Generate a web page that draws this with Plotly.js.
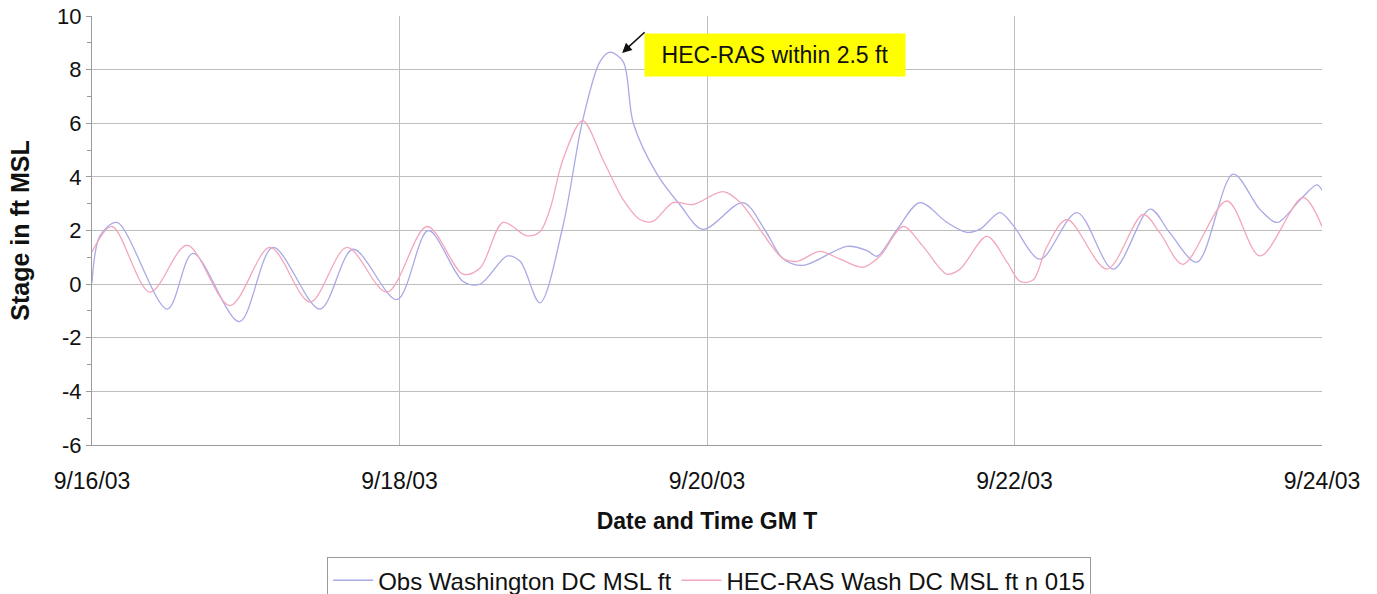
<!DOCTYPE html>
<html><head><meta charset="utf-8">
<script src="https://cdn.plot.ly/plotly-3.0.1.min.js"></script>
<style>html,body{margin:0;padding:0;background:#fff}#chart{width:1377px;height:594px}</style>
</head><body><div id="chart"></div>
<script>
const obsTimes = ["2003-09-16 00:00","2003-09-16 01:15","2003-09-16 03:54","2003-09-16 11:45","2003-09-16 15:45","2003-09-16 23:00","2003-09-17 04:15","2003-09-17 11:35","2003-09-17 16:45","2003-09-17 23:36","2003-09-18 04:30","2003-09-18 09:55","2003-09-18 12:35","2003-09-18 16:50","2003-09-18 18:50","2003-09-18 21:55","2003-09-19 01:30","2003-09-19 04:35","2003-09-19 07:18","2003-09-19 08:52","2003-09-19 10:55","2003-09-19 12:30","2003-09-19 16:12","2003-09-19 19:48","2003-09-19 23:22","2003-09-20 05:37","2003-09-20 09:05","2003-09-20 11:52","2003-09-20 15:00","2003-09-20 21:52","2003-09-21 01:00","2003-09-21 02:32","2003-09-21 05:40","2003-09-21 09:15","2003-09-21 13:28","2003-09-21 16:35","2003-09-21 18:37","2003-09-21 21:44","2003-09-21 23:46","2003-09-22 04:00","2003-09-22 09:45","2003-09-22 15:25","2003-09-22 21:10","2003-09-23 00:17","2003-09-23 04:30","2003-09-23 10:07","2003-09-23 14:20","2003-09-23 17:00","2003-09-23 20:35","2003-09-23 23:13","2003-09-24 00:00"];
const obsStage = [0.05,1.8,2.3,-0.93,1.15,-1.4,1.37,-0.93,1.3,-0.58,2.0,0.1,0.0,1.05,0.85,-0.7,2.15,6.1,8.3,8.65,8.3,6.0,4.1,2.95,2.04,3.04,2.0,0.95,0.7,1.41,1.25,1.04,2.04,3.04,2.3,1.93,2.05,2.67,2.2,0.93,2.67,0.56,2.8,1.9,0.82,4.1,2.78,2.3,3.15,3.7,3.5];

const rasTimes = ["2003-09-16 00:00","2003-09-16 03:07","2003-09-16 09:03","2003-09-16 14:50","2003-09-16 21:32","2003-09-17 03:47","2003-09-17 10:02","2003-09-17 15:48","2003-09-17 22:03","2003-09-18 04:18","2003-09-18 09:55","2003-09-18 12:35","2003-09-18 16:10","2003-09-18 19:54","2003-09-18 21:55","2003-09-18 23:30","2003-09-19 01:30","2003-09-19 04:35","2003-09-19 07:46","2003-09-19 10:55","2003-09-19 13:32","2003-09-19 15:34","2003-09-19 18:42","2003-09-19 21:49","2003-09-20 02:30","2003-09-20 05:10","2003-09-20 11:52","2003-09-20 14:03","2003-09-20 17:38","2003-09-20 20:46","2003-09-21 00:21","2003-09-21 03:00","2003-09-21 06:36","2003-09-21 09:43","2003-09-21 13:28","2003-09-21 15:30","2003-09-21 19:42","2003-09-21 22:50","2003-09-22 00:52","2003-09-22 02:54","2003-09-22 05:05","2003-09-22 08:12","2003-09-22 14:26","2003-09-22 20:04","2003-09-22 22:43","2003-09-23 02:18","2003-09-23 09:10","2003-09-23 14:20","2003-09-23 21:02","2003-09-24 00:00"];
const rasStage = [1.2,2.15,-0.3,1.45,-0.8,1.37,-0.67,1.37,-0.3,2.15,0.37,0.6,2.3,1.8,1.95,2.8,4.64,6.1,4.64,3.15,2.41,2.34,3.04,2.97,3.45,3.05,0.95,0.85,1.22,0.93,0.63,1.04,2.15,1.41,0.37,0.56,1.78,0.82,0.1,0.15,1.41,2.41,0.56,2.6,1.9,0.74,3.1,1.05,3.23,2.15];

const seriesNames = ["Obs Washington DC MSL ft", "HEC-RAS Wash DC MSL ft n 015"];
const xTickStart = "2003-09-16";
const xRange = ["2003-09-16 00:00", "2003-09-24 00:00"];
const yRange = [-6, 10];
const yTickVals = [-6, -4, -2, 0, 2, 4, 6, 8, 10];
const yTickText = ["-6", "-4", "-2", "0", "2", "4", "6", "8", "10"];
const annotationText = "HEC-RAS within 2.5 ft";
const xTitle = "Date and Time GM T";
const yTitle = "Stage in ft MSL";

const font = "Arial, 'Liberation Sans', sans-serif";
const traces = [
  {x: obsTimes, y: obsStage, name: seriesNames[0], type: "scatter", mode: "lines",
   line: {color: "#a9a9e6", width: 1.3, shape: "spline", smoothing: 0.9}},
  {x: rasTimes, y: rasStage, name: seriesNames[1], type: "scatter", mode: "lines",
   line: {color: "#f3a7bc", width: 1.3, shape: "spline", smoothing: 0.9}}
];
const layout = {
  width: 1377, height: 594,
  margin: {l: 92, r: 55, t: 16, b: 149},
  paper_bgcolor: "#fff", plot_bgcolor: "#fff",
  showlegend: true,
  font: {family: font, color: "#000"},
  xaxis: {
    type: "date", range: xRange, tick0: xTickStart, dtick: 2*86400000, automargin: false,
    tickformat: "%-m/%d/%y", showgrid: true, gridcolor: "#bdbdbd", gridwidth: 1,
    showline: true, linecolor: "#9a9a9a", linewidth: 1, zeroline: false,
    ticks: "", ticklabelstandoff: 15,
    tickfont: {size: 23, family: font, color: "#111"},
    title: {text: xTitle, font: {size: 23, family: font, color: "#111", weight: "bold"}, standoff: 20}
  },
  yaxis: {
    range: yRange, tickmode: "array", tickvals: yTickVals, ticktext: yTickText, automargin: false,
    showgrid: true, gridcolor: "#bdbdbd", gridwidth: 1,
    showline: true, linecolor: "#9a9a9a", linewidth: 1, zeroline: false,
    ticks: "outside", ticklen: 5, tickcolor: "#9a9a9a",
    minor: {dtick: 1, ticks: "outside", ticklen: 4, tickcolor: "#9a9a9a", showgrid: false},
    tickfont: {size: 22, family: font, color: "#111"},
    title: {text: yTitle, font: {size: 25, family: font, color: "#111", weight: "bold"}, standoff: 20}
  },
  legend: {
    orientation: "h", xref: "container", yref: "container",
    x: 0.515, xanchor: "center", y: 0.062, yanchor: "top",
    bordercolor: "#9a9a9a", borderwidth: 1, bgcolor: "#fff",
    font: {size: 24, family: font, color: "#111"}, itemwidth: 40
  },
  annotations: [
    {xref: "paper", yref: "paper", x: 0.555, y: 0.909, xanchor: "center", yanchor: "middle",
     text: annotationText, showarrow: false, bgcolor: "#ffff00", width: 258, height: 40,
     font: {size: 23, family: font, color: "#111"}},
    {xref: "paper", yref: "paper", x: 0.431, y: 0.914, text: "",
     showarrow: true, arrowhead: 2, arrowsize: 1.2, arrowwidth: 1.6, arrowcolor: "#111",
     axref: "pixel", ayref: "pixel", ax: 24, ay: -22}
  ]
};
Plotly.newPlot("chart", traces, layout, {staticPlot: true, displayModeBar: false});
</script></body></html>
